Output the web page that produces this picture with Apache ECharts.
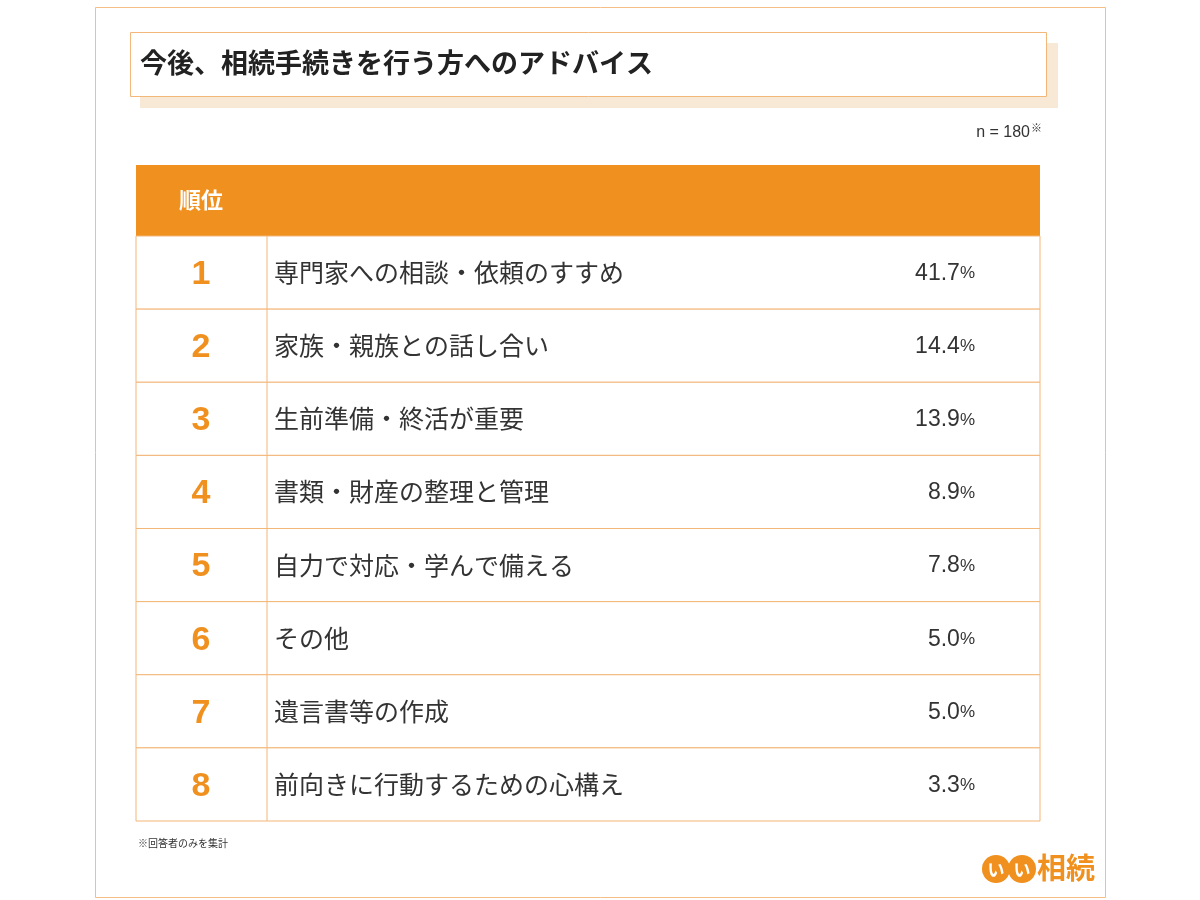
<!DOCTYPE html>
<html>
<head>
<meta charset="utf-8">
<script src="https://cdn.jsdelivr.net/npm/echarts@6/dist/echarts.min.js"></script>
</head>
<body style="margin:0">
<div id="main" style="width:1200px;height:900px;"></div>
<script>
const ranks = ['1', '2', '3', '4', '5', '6', '7', '8'];
const items = ['専門家への相談・依頼のすすめ', '家族・親族との話し合い', '生前準備・終活が重要', '書類・財産の整理と管理',
  '自力で対応・学んで備える', 'その他', '遺言書等の作成', '前向きに行動するための心構え'];
const shares = [41.7, 14.4, 13.9, 8.9, 7.8, 5.0, 5.0, 3.3];

const orange = '#F0901E';
const line = '#F3B779';
const font = '"Noto Sans CJK JP", "Noto Sans", sans-serif';
const latin = '"Liberation Sans", Arial, sans-serif';

const chart = echarts.init(document.getElementById('main'));

function renderRow(params, api) {
  const i = api.value(0);
  const cy = api.coord([0, i])[1];
  const h = api.size([0, 1])[1];
  const cs = params.coordSys;
  const top = cy - h / 2;
  return {
    type: 'group',
    children: [
      { type: 'rect', shape: { x: cs.x, y: top, width: cs.width, height: h },
        style: { fill: '#fff', stroke: line, lineWidth: 1 } },
      { type: 'line', shape: { x1: cs.x + 131, y1: top, x2: cs.x + 131, y2: top + h },
        style: { stroke: line, lineWidth: 1 } },
      { type: 'text', x: cs.x + 65, y: cy + 2,
        style: { text: ranks[i], fill: orange, font: 'bold 34px ' + latin, align: 'center', verticalAlign: 'middle' } },
      { type: 'text', x: cs.x + 138, y: cy,
        style: { text: items[i], fill: '#333', font: '25px ' + font, verticalAlign: 'middle' } },
      { type: 'text', x: cs.x + 839, y: cy + 1,
        style: { text: '{a|' + shares[i].toFixed(1) + '}{b|%}', align: 'right', verticalAlign: 'middle',
          rich: { a: { fill: '#333', font: '23px ' + latin }, b: { fill: '#333', font: '17px ' + latin } } } }
    ]
  };
}

chart.setOption({
  animation: false,
  grid: { left: 136, right: 160, top: 236, bottom: 79 },
  xAxis: { type: 'value', min: 0, max: 1, show: false },
  yAxis: { type: 'category', data: ranks, inverse: true, show: false },
  graphic: [
    { type: 'rect', shape: { x: 95.5, y: 7.5, width: 1010, height: 890 }, style: { fill: 'none', stroke: '#F5BE86', lineWidth: 1 } },
    { type: 'rect', shape: { x: 140, y: 43, width: 918, height: 65 }, style: { fill: '#F8E9D6' } },
    { type: 'rect', shape: { x: 130.5, y: 32.5, width: 916, height: 64 }, style: { fill: '#fff', stroke: line, lineWidth: 1 } },
    { type: 'text', x: 140, y: 63, style: { text: '今後、相続手続きを行う方へのアドバイス', fill: '#222', font: 'bold 27px ' + font, verticalAlign: 'middle' } },
    { type: 'text', x: 1030, y: 133, style: { text: 'n = 180', fill: '#333', font: '16px ' + latin, align: 'right', verticalAlign: 'middle' } },
    { type: 'text', x: 1031, y: 128, style: { text: '※', fill: '#333', font: '11px ' + font, verticalAlign: 'middle' } },
    { type: 'rect', shape: { x: 136, y: 165, width: 904, height: 71 }, style: { fill: orange } },
    { type: 'text', x: 201, y: 200, style: { text: '順位', fill: '#fff', font: 'bold 22px ' + font, align: 'center', verticalAlign: 'middle' } },
    { type: 'text', x: 138, y: 843, style: { text: '※回答者のみを集計', fill: '#333', font: '10px ' + font, verticalAlign: 'middle' } },
    { type: 'circle', shape: { cx: 996, cy: 869, r: 14 }, style: { fill: orange } },
    { type: 'circle', shape: { cx: 1022, cy: 869, r: 14 }, style: { fill: orange } },
    { type: 'text', x: 996, y: 870, style: { text: 'い', fill: '#fff', font: 'bold 17px ' + font, align: 'center', verticalAlign: 'middle' } },
    { type: 'text', x: 1022, y: 870, style: { text: 'い', fill: '#fff', font: 'bold 17px ' + font, align: 'center', verticalAlign: 'middle' } },
    { type: 'text', x: 1037, y: 868, style: { text: '相続', fill: orange, font: 'bold 29px ' + font, verticalAlign: 'middle' } }
  ],
  series: [{
    type: 'custom',
    renderItem: renderRow,
    data: ranks.map((r, i) => [i]),
    encode: { y: 0 }
  }]
});
</script>
</body>
</html>
